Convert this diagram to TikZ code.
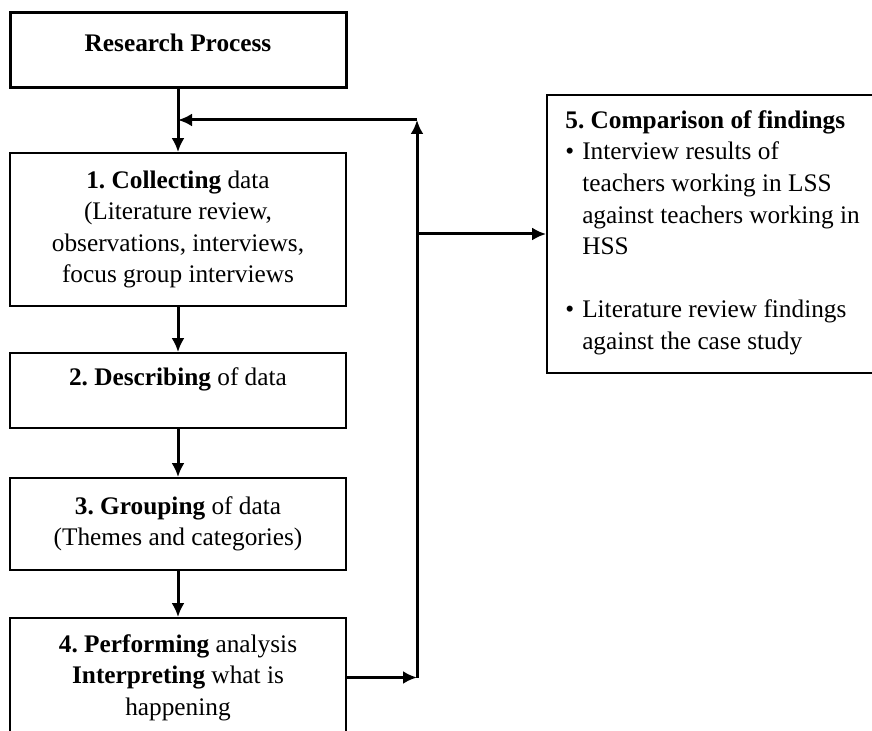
\documentclass[tikz,border=0pt]{standalone}
\usepackage{fontspec}
\setmainfont{Liberation Serif}
\frenchspacing
\usetikzlibrary{positioning, arrows.meta}

\tikzset{
    box/.style={draw=black, line width=0.9pt, minimum width=168pt, inner sep=0pt, align=center},
    arr/.style={line width=1.5pt, -{Latex[length=7pt,width=6.5pt]}},
    every node/.style={font=\fontsize{12.65pt}{15.8pt}\selectfont}
}

\begin{document}
\begin{tikzpicture}[x=0.5pt, y=-0.5pt]

        \useasboundingbox (0,0) rectangle (872,731);
        \clip (0,0) rectangle (872,731);

        % left column
        \node[box, line width=1.5pt, minimum height=37.5pt] (rp) at (178,50.5) {};
        \node (rptext) at (178,43) {\bfseries Research Process};

        \node[box, minimum height=76.5pt] (collect) at (178,229.5)
            {\textbf{1. Collecting} data\\(Literature review,\\observations, interviews,\\focus group interviews};

        \node[box, minimum height=37.5pt] (describe) at (178,390.5) {};
        \node (describetext) at (178,379) {\textbf{2. Describing} of data};

        \node[box, minimum height=46pt] (group) at (178,524)
            {\textbf{3. Grouping} of data\\(Themes and categories)};

        \node[box, minimum height=59.5pt] (perform) at (178,677.5)
            {\textbf{4. Performing} analysis\\\textbf{Interpreting} what is\\happening};

        % right box
        \node[box, minimum width=176.5pt, minimum height=139pt] (compare) at (723.5,234) {};
        \node[anchor=west, inner sep=0pt] (comparetext) at (565,232.5) {%
            \begin{tabular}{@{}l@{\hspace{4pt}}l@{}}
                \multicolumn{2}{@{}l}{\textbf{5. Comparison of findings}}\\
                \textbullet & Interview results of\\
                 & teachers working in LSS\\
                 & against teachers working in\\
                 & HSS\\
                 & \\
                \textbullet & Literature review findings\\
                 & against the case study
            \end{tabular}};

        % loop coordinates
        \coordinate (loopb) at (417,677.5);
        \coordinate (loopt) at (417,120);
        \coordinate (branch) at (417,234);
        \coordinate (join) at (178,120);

        % arrows down
        \draw[arr] (rp) -- (collect);
        \draw[arr] (collect) -- (describe);
        \draw[arr] (describe) -- (group);
        \draw[arr] (group) -- (perform);

        % feedback loop
        \draw[arr] (perform.east) -- (loopb);
        \draw[arr] (loopb) -- (loopt);
        \draw[arr] (loopt) -- (join);
        \draw[arr] (branch) -- (compare.west);

\end{tikzpicture}
\end{document}
